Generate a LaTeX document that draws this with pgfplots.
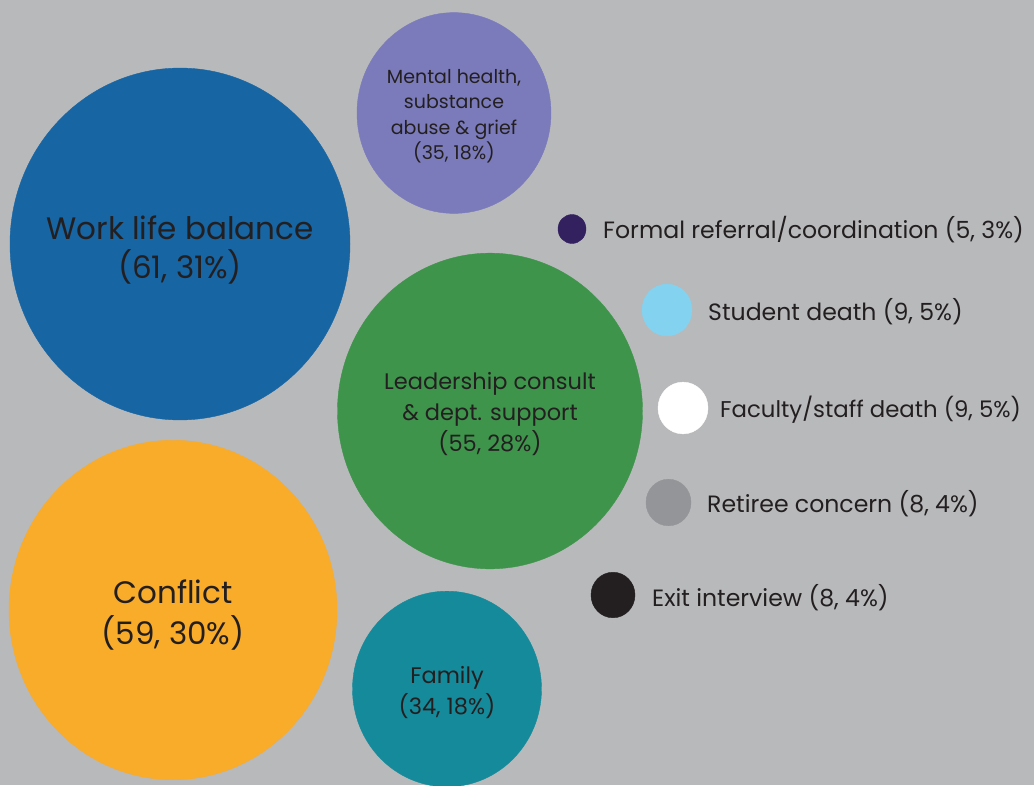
\documentclass[border=0pt]{standalone}
\usepackage{pgfplots}
\pgfplotsset{compat=1.18}
\usepackage{fontspec}
\setmainfont{Poppins}
\definecolor{bggray}{HTML}{B8B9BB}
\definecolor{txt}{HTML}{231F20}
\definecolor{cblue}{HTML}{1765A3}
\definecolor{corange}{HTML}{F9AB2A}
\definecolor{cpurple}{HTML}{7B7BBB}
\definecolor{cgreen}{HTML}{3F944C}
\definecolor{cteal}{HTML}{158A9A}
\definecolor{cdark}{HTML}{33205F}
\definecolor{clight}{HTML}{83D3F0}
\definecolor{cgray}{HTML}{939598}
\definecolor{cblack}{HTML}{231F20}
\newcommand{\fs}[2]{\fontsize{#1}{#2}\selectfont}
\begin{document}
\begin{tikzpicture}
\begin{axis}[
  scale only axis, width=1034pt, height=785pt,
  xmin=0, xmax=1034, ymin=0, ymax=785, y dir=reverse,
  axis lines=none, clip marker paths=true,
  every axis plot/.append style={only marks, mark=*, mark options={yscale=1.035}},
]
\fill[bggray] (rel axis cs:0,0) rectangle (rel axis cs:1,1);
% bubbles: (x, y) centre; mark size = radius
\addplot[mark size=170pt, color=cblue] coordinates {(180,244)};
\addplot[mark size=164pt, color=corange] coordinates {(173,610)};
\addplot[mark size=97pt, color=cpurple] coordinates {(454,113)};
\addplot[mark size=152.5pt, color=cgreen] coordinates {(490,411)};
\addplot[mark size=94.5pt, color=cteal] coordinates {(447,689)};
\addplot[mark size=14pt, color=cdark] coordinates {(572,229)};
\addplot[mark size=25pt, color=clight] coordinates {(667,310)};
\addplot[mark size=25pt, color=white] coordinates {(683,408)};
\addplot[mark size=22.5pt, color=cgray] coordinates {(668.5,502.5)};
\addplot[mark size=22pt, color=cblack] coordinates {(613,595)};
% labels
\begin{scope}[every node/.style={text=txt, align=center, inner sep=0pt}]
\node[font=\fs{31}{39}] at (axis cs:180,250) {Work life balance\\(61, 31\%)};
\node[font=\fs{31}{41}] at (axis cs:173,615) {Conflict\\(59, 30\%)};
\node[font=\fs{19}{25.5}] at (axis cs:454,116) {Mental health,\\substance\\abuse \& grief\\(35, 18\%)};
\node[font=\fs{22.5}{31}] at (axis cs:490,414) {Leadership consult\\\& dept. support\\(55, 28\%)};
\node[font=\fs{22.5}{31}] at (axis cs:447,693) {Family\\(34, 18\%)};
\end{scope}
\begin{scope}[every node/.style={text=txt, anchor=west, inner sep=0pt, font=\fs{23.6}{28}}]
\node at (axis cs:603,230) {Formal referral/coordination (5, 3\%)};
\node at (axis cs:708,312) {Student death (9, 5\%)};
\node[font=\fs{22.8}{28}] at (axis cs:720,410) {Faculty/staff death (9, 5\%)};
\node at (axis cs:707,504) {Retiree concern (8, 4\%)};
\node at (axis cs:652,598) {Exit interview (8, 4\%)};
\end{scope}
\end{axis}
\pgfresetboundingbox
\path[use as bounding box] (current axis.south west) rectangle (current axis.north east);
\end{tikzpicture}
\end{document}
